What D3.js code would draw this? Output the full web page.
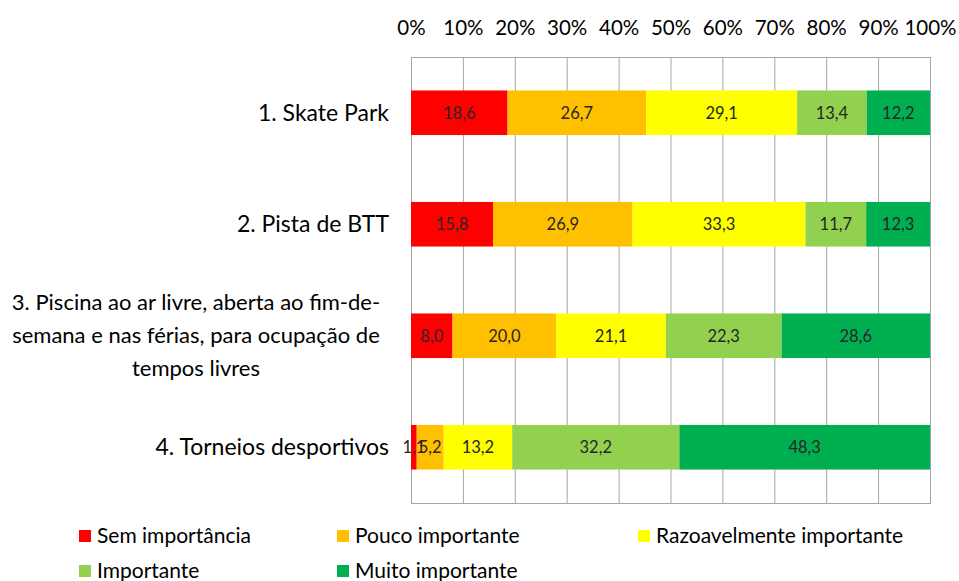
<!DOCTYPE html>
<html><head><meta charset="utf-8">
<script src="https://cdn.jsdelivr.net/npm/d3@7"></script>
<style>body{margin:0;background:#fff}svg{display:block}text{font-family:Lato,"Noto Sans",sans-serif}</style>
</head><body><svg id="c" width="959" height="581"></svg>
<script>
const categories = [
  ["1. Skate Park"],
  ["2. Pista de BTT"],
  ["3. Piscina ao ar livre, aberta ao fim-de-", "semana e nas férias, para ocupação de", "tempos livres"],
  ["4. Torneios desportivos"]
];
const seriesNames = ["Sem importância","Pouco importante","Razoavelmente importante","Importante","Muito importante"];
const seriesColors = ["#FF0000","#FFC000","#FFFF00","#92D050","#00B050"];
const semImportancia = [18.6, 15.8, 8.0, 1.1];
const poucoImportante = [26.7, 26.9, 20.0, 5.2];
const razoavelmente = [29.1, 33.3, 21.1, 13.2];
const importante = [13.4, 11.7, 22.3, 32.2];
const muitoImportante = [12.2, 12.3, 28.6, 48.3];
const tickValues = [0,10,20,30,40,50,60,70,80,90,100];

const series = [semImportancia, poucoImportante, razoavelmente, importante, muitoImportante];
const rows = categories.map((c,i)=>{const o={id:i}; series.forEach((s,j)=>o["s"+j]=s[i]); return o;});
const keys = series.map((s,j)=>"s"+j);
const stack = d3.stack().keys(keys)(rows);

const svg = d3.select("#c");
const L=411, R=930, T=57, B=503;
const x = d3.scaleLinear().domain([0,100]).range([L,R]);
const y = d3.scaleBand().domain(d3.range(categories.length)).range([T,B]).paddingInner(0.6).paddingOuter(0.3);

// gridlines
svg.append("g").selectAll("line").data(tickValues).join("line")
  .attr("x1",d=>x(d)+0.5).attr("x2",d=>x(d)+0.5).attr("y1",T).attr("y2",B)
  .attr("stroke","#a6a6a6").attr("stroke-width",1);
svg.append("line").attr("x1",L).attr("x2",R+1).attr("y1",T+0.5).attr("y2",T+0.5).attr("stroke","#a6a6a6");
svg.append("line").attr("x1",L).attr("x2",R+1).attr("y1",B+0.5).attr("y2",B+0.5).attr("stroke","#a6a6a6");

// top axis labels
const ax = svg.append("g").attr("transform",`translate(0,${T-19})`)
  .call(d3.axisTop(x).tickValues(tickValues).tickFormat(d=>d+"%").tickSize(0));
ax.select(".domain").remove();
ax.selectAll("text").attr("font-size",20.5).attr("fill","#000").attr("font-family","Lato");

// bars
const g = svg.append("g");
stack.forEach((layer,j)=>{
  g.selectAll(null).data(layer).join("rect")
    .attr("x",d=>x(d[0])).attr("width",d=>x(d[1])-x(d[0]))
    .attr("y",(d,i)=>y(i)).attr("height",y.bandwidth())
    .attr("fill",seriesColors[j]);
});
stack.forEach((layer,j)=>{
  g.selectAll(null).data(layer).join("text")
    .attr("x",d=>(x(d[0])+x(d[1]))/2).attr("y",(d,i)=>y(i)+y.bandwidth()/2)
    .attr("dy","0.35em").attr("text-anchor","middle").attr("font-size",16.5).attr("fill","#262626")
    .text(d=>d3.format(".1f")(d[1]-d[0]).replace(".",","));
});

// category labels
categories.forEach((lines,i)=>{
  const cy = y(i)+y.bandwidth()/2;
  const lh = 33;
  if(lines.length===1){
    svg.append("text").attr("x",389).attr("y",cy).attr("dy","0.35em").attr("text-anchor","end")
      .attr("font-size",23).attr("fill","#000").text(lines[0]);
  } else {
    const t = svg.append("text").attr("text-anchor","middle").attr("font-size",22).attr("fill","#000");
    lines.forEach((ln,k)=>{
      t.append("tspan").attr("x",196).attr("y",cy+(k-(lines.length-1)/2)*lh).attr("dy","0.35em").text(ln);
    });
  }
});

// legend
const legPos = [[79,536],[337,536],[638,536],[79,571],[337,571]];
const leg = svg.append("g");
seriesNames.forEach((n,j)=>{
  const [lx,ly]=legPos[j];
  leg.append("rect").attr("x",lx).attr("y",ly-6).attr("width",12).attr("height",12).attr("fill",seriesColors[j]);
  leg.append("text").attr("x",lx+18).attr("y",ly).attr("dy","0.35em").attr("font-size",21).attr("fill","#000").text(n);
});
</script></body></html>
